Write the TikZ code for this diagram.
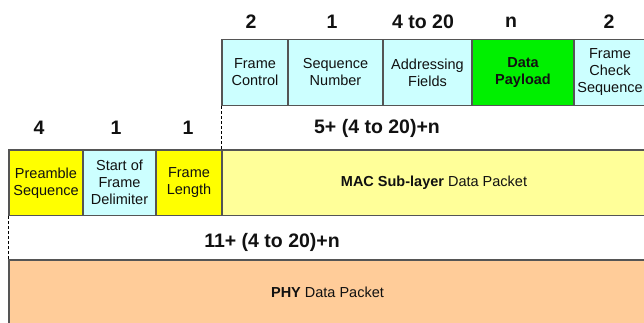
\documentclass[tikz,border=0pt]{standalone}
\usepackage{fontspec}
\setmainfont{Liberation Sans}
\definecolor{cyanf}{HTML}{CCFFFF}
\definecolor{yelf}{HTML}{FFFF00}
\definecolor{lyelf}{HTML}{FFFF99}
\definecolor{greenf}{HTML}{00F000}
\definecolor{orangef}{HTML}{FFCC99}
\definecolor{edgec}{HTML}{555555}
\definecolor{txtc}{HTML}{111111}
\begin{document}
\begin{tikzpicture}[x=1pt,y=-1pt,
  fbox/.style={draw=edgec, line width=1.1pt, rectangle, inner sep=0pt, align=center,
    text=txtc, font=\fontsize{14.5}{17}\selectfont},
  numlbl/.style={inner sep=0pt, text=txtc, font=\fontsize{19.5}{22}\selectfont\bfseries},
  sumlbl/.style={inner sep=0pt, text=txtc, font=\fontsize{19.5}{22}\selectfont\bfseries},
  dashline/.style={draw=black, line width=0.8pt, dash pattern=on 3pt off 2pt}]
\useasboundingbox (0,0) rectangle (644,322);
\begin{scope}
\clip (0,0) rectangle (644,322);
% top row
\node[fbox, fill=cyanf, minimum width=66, minimum height=66] (fc) at (255,72.5) {Frame\\Control};
\node[fbox, fill=cyanf, minimum width=95, minimum height=66] (sn) at (335.5,72.5) {Sequence\\Number};
\node[fbox, fill=cyanf, minimum width=89, minimum height=66] (af) at (427.5,72.5) {Addressing\\Fields};
\node[fbox, fill=greenf, minimum width=102, minimum height=66, font=\fontsize{14.5}{17}\selectfont\bfseries] (dp) at (523,72.5) {Data\\Payload};
\node[fbox, fill=cyanf, minimum width=72, minimum height=66] (fcs) at (610,72.5) {Frame\\Check\\Sequence};
% middle row
\node[fbox, fill=yelf, minimum width=74, minimum height=65.5] (ps) at (46,182.75) {Preamble\\Sequence};
\node[fbox, fill=cyanf, minimum width=73, minimum height=65.5] (sfd) at (119.5,182.75) {Start of\\Frame\\Delimiter};
\node[fbox, fill=yelf, minimum width=66, minimum height=65.5] (fl) at (189,182.75) {Frame\\Length};
\node[fbox, fill=lyelf, minimum width=424, minimum height=65.5] (mac) at (434,182.75) {\textbf{MAC Sub-layer} Data Packet};
% bottom
\node[fbox, fill=orangef, minimum width=637, minimum height=64] (phy) at (327.5,292) {\textbf{PHY} Data Packet};
\end{scope}
% dashed guides
\draw[dashline] (fc.south west) -- (mac.north west);
\draw[dashline] (ps.south west) -- (phy.north west);
% numbers top
\node[numlbl] (n1) at (251,22) {2};
\node[numlbl] (n2) at (332,22) {1};
\node[numlbl] (n3) at (423,22) {4 to 20};
\node[numlbl] (n4) at (511,22) {n};
\node[numlbl] (n5) at (609,22) {2};
% numbers middle
\node[numlbl] (m1) at (39,128) {4};
\node[numlbl] (m2) at (116,128) {1};
\node[numlbl] (m3) at (188,128) {1};
\node[sumlbl] (s1) at (377,128) {5+ (4 to 20)+n};
\node[sumlbl] (s2) at (272,242) {11+ (4 to 20)+n};
\end{tikzpicture}
\end{document}
